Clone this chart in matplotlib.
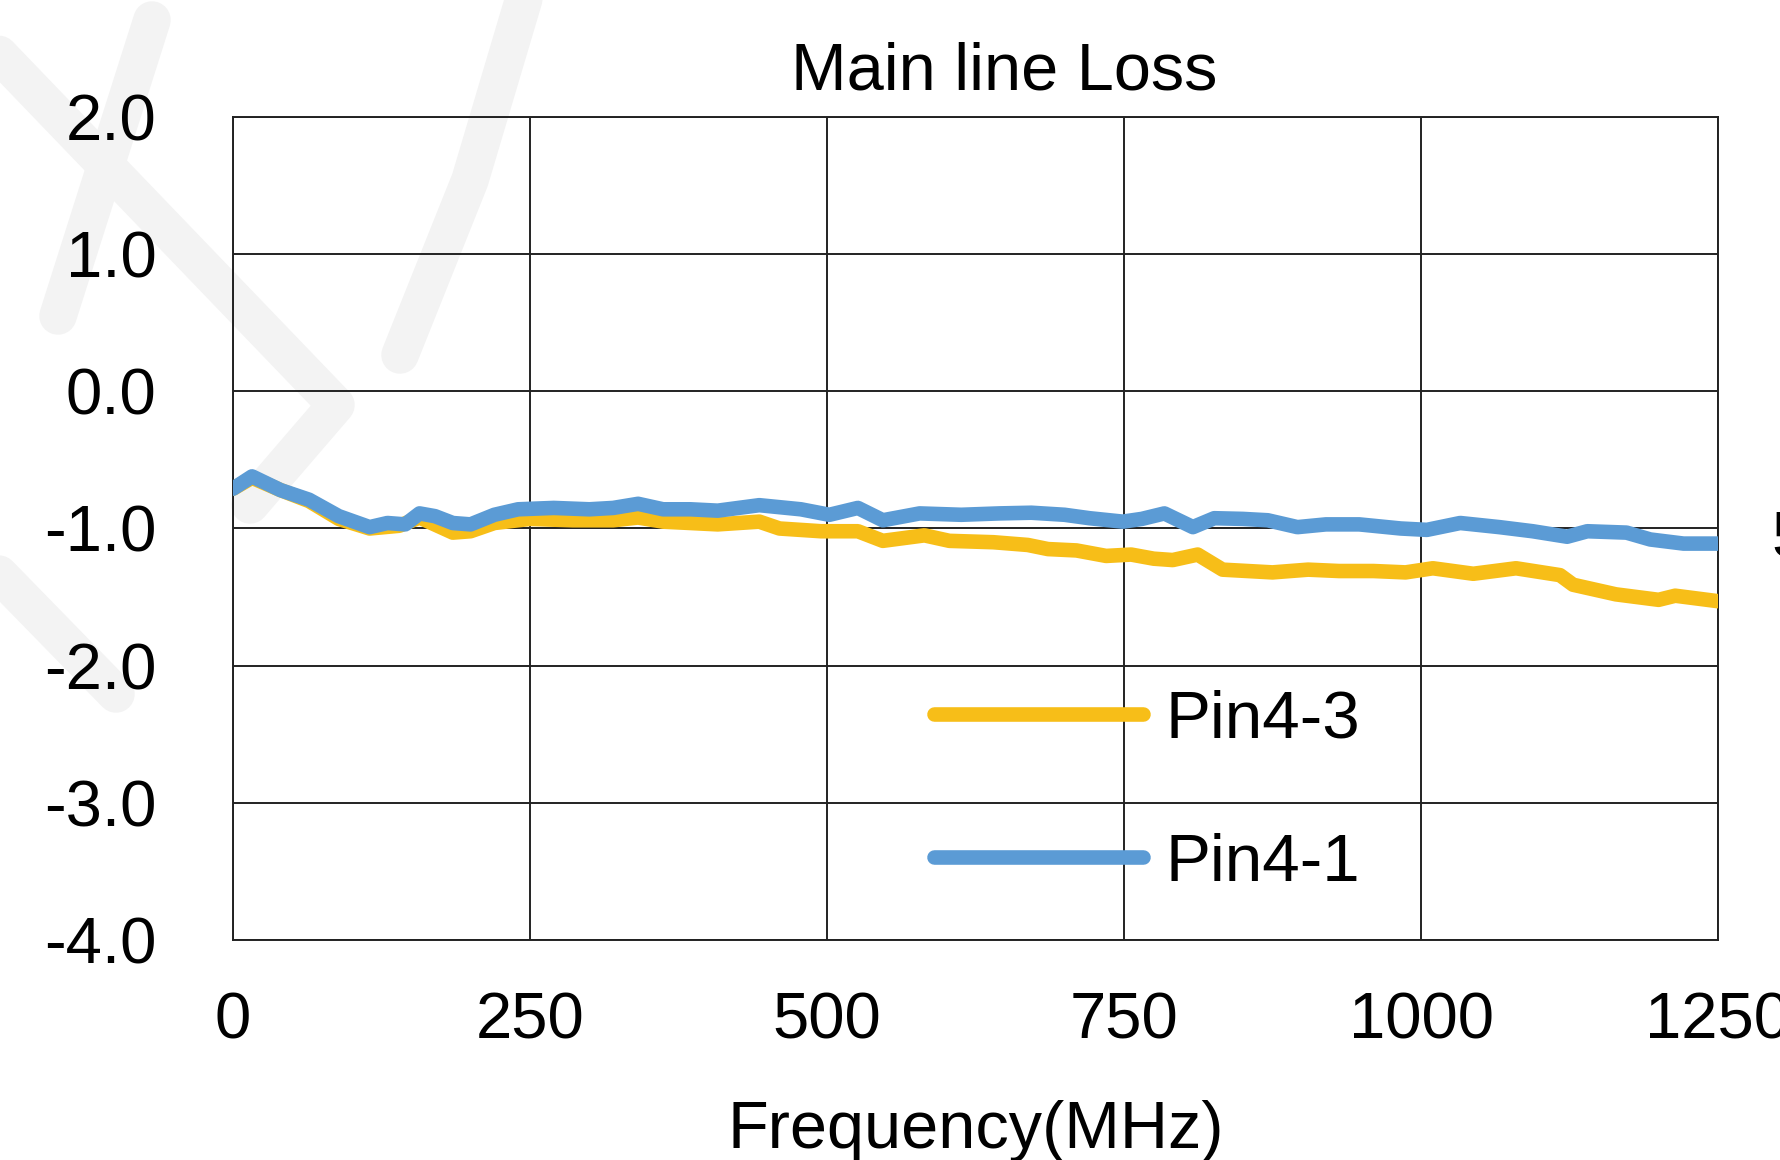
import numpy as np
import matplotlib.pyplot as plt
from matplotlib.lines import Line2D

plt.rcParams['font.family'] = ['Liberation Sans', 'DejaVu Sans']
plt.rcParams['axes.unicode_minus'] = False

# Pin4-1 (blue)
freq_41 = [0, 16, 40, 64, 89, 115, 130, 145, 157, 170, 185, 200, 220, 240, 270,
           300, 320, 341, 362, 385, 408, 443, 478, 502, 526, 547, 578, 613, 645,
           672, 700, 721, 749, 765, 784, 808, 826, 850, 871, 896, 920, 948, 983,
           1005, 1033, 1066, 1094, 1123, 1140, 1173, 1193, 1221, 1250]
loss_41 = [-0.71, -0.62, -0.72, -0.79, -0.91, -0.99, -0.96, -0.97, -0.89, -0.91,
           -0.96, -0.97, -0.90, -0.86, -0.85, -0.86, -0.85, -0.82, -0.86, -0.86,
           -0.87, -0.83, -0.86, -0.90, -0.85, -0.94, -0.89, -0.90, -0.89, -0.885,
           -0.90, -0.925, -0.95, -0.93, -0.89, -0.99, -0.925, -0.93, -0.94, -0.99,
           -0.97, -0.97, -1.00, -1.01, -0.96, -0.99, -1.02, -1.06, -1.02, -1.03,
           -1.08, -1.11, -1.11]

# Pin4-3 (yellow)
freq_43 = [0, 16, 40, 64, 89, 115, 140, 157, 185, 200, 220, 250, 286, 320, 341,
           362, 408, 443, 460, 495, 526, 547, 582, 603, 640, 669, 686, 710, 735,
           756, 775, 791, 812, 833, 875, 905, 931, 960, 987, 1010, 1044, 1080,
           1117, 1128, 1164, 1200, 1214, 1250]
loss_43 = [-0.71, -0.63, -0.72, -0.80, -0.93, -1.00, -0.98, -0.92, -1.03, -1.02,
           -0.96, -0.93, -0.94, -0.94, -0.92, -0.95, -0.97, -0.95, -1.00, -1.02,
           -1.02, -1.09, -1.05, -1.09, -1.10, -1.12, -1.15, -1.16, -1.20, -1.19,
           -1.22, -1.23, -1.19, -1.30, -1.32, -1.30, -1.31, -1.31, -1.32, -1.29,
           -1.33, -1.29, -1.34, -1.41, -1.48, -1.52, -1.49, -1.53]

x_ticks = [0, 250, 500, 750, 1000, 1250]
y_ticks = [-4.0, -3.0, -2.0, -1.0, 0.0, 1.0, 2.0]

W, H = 1781, 1160
fig = plt.figure(figsize=(W / 100, H / 100), dpi=100)
fig.patch.set_facecolor('white')

# faint watermark strokes (pixel coords)
strokes = [
    [(152, 20), (58, 316)],
    [(-10, 45), (336, 405), (250, 505)],
    [(525, -5), (470, 180), (400, 355)],
    [(-5, 570), (116, 694)],
]
for s in strokes:
    xs = [p[0] / W for p in s]
    ys = [1 - p[1] / H for p in s]
    fig.add_artist(Line2D(xs, ys, color='#f3f3f3', lw=27, solid_capstyle='round',
                          solid_joinstyle='round', zorder=-1))

ax = fig.add_axes([233 / W, 1 - 940 / H, (1718 - 233) / W, (940 - 117) / H])
ax.set_facecolor('none')

ax.plot(freq_43, loss_43, color='#F7BE18', lw=10.5, solid_capstyle='round',
        solid_joinstyle='round', label='Pin4-3', zorder=3)
ax.plot(freq_41, loss_41, color='#5B9BD5', lw=10.5, solid_capstyle='round',
        solid_joinstyle='round', label='Pin4-1', zorder=4)

ax.set_xlim(0, 1250)
ax.set_ylim(-4, 2)
ax.set_xticks(x_ticks)
ax.set_xticklabels([str(v) for v in x_ticks])
ax.set_yticks(y_ticks)
ax.set_yticklabels(['%.1f' % v for v in y_ticks])
ax.tick_params(axis='both', length=0, labelsize=47, colors='black')
ax.tick_params(axis='y', pad=55)
ax.tick_params(axis='x', pad=37)
ax.grid(True, color='#222222', lw=1.4)
for sp in ax.spines.values():
    sp.set_color('#222222')
    sp.set_linewidth(1.4)

ax.set_title('Main line Loss', fontsize=48, x=0.519, y=1.034, pad=0, va='baseline')
ax.set_xlabel('Frequency(MHz)', fontsize=48, va='baseline')
ax.xaxis.set_label_coords(0.5, (940 - 1148) / 823)

ax.legend(loc='upper left', bbox_to_anchor=((934 - 233) / 1485, (940 - 690) / 823),
          frameon=False, fontsize=48.5, borderpad=0, borderaxespad=0,
          handlelength=3.1, handletextpad=0.33, labelspacing=1.2)

# clipped secondary label at the right edge
fig.text(1771 / W, 1 - 540 / H, '5', fontsize=47, va='center', ha='left')

fig.savefig('out.png', dpi=100)
